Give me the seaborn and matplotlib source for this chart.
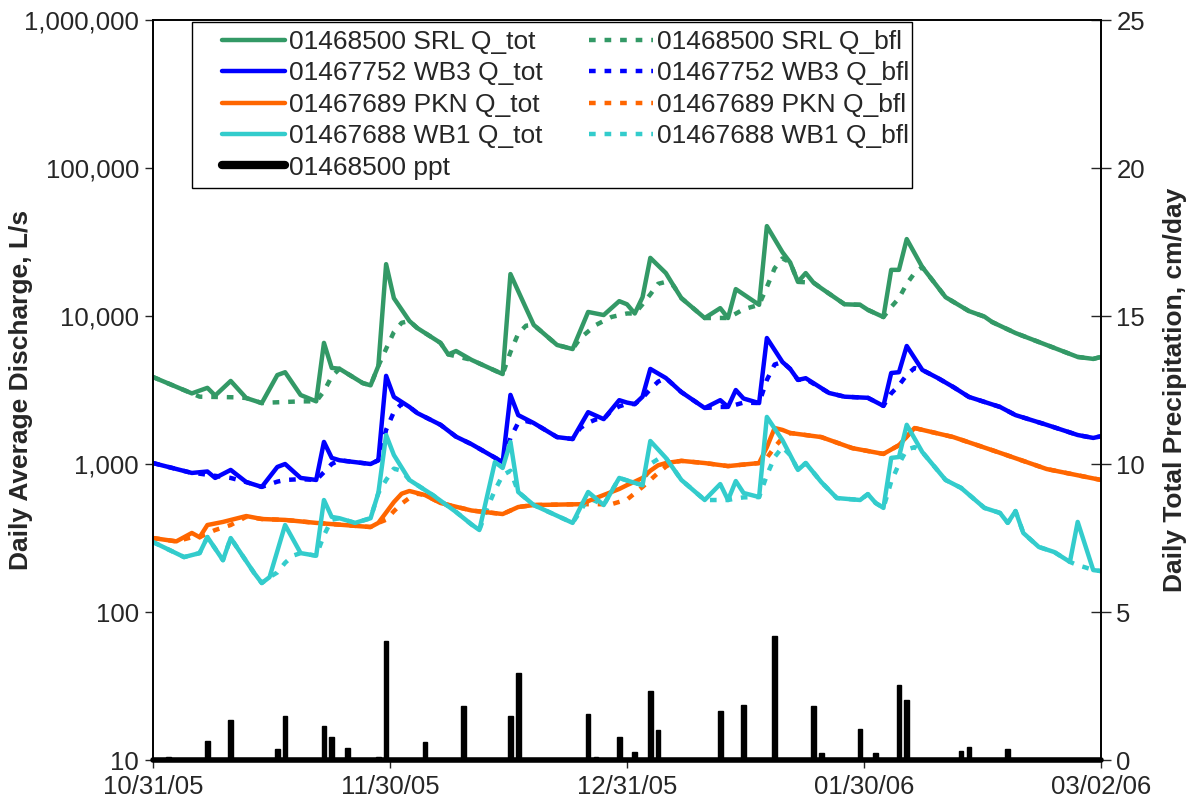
import numpy as np
import pandas as pd
import matplotlib
matplotlib.use("Agg")
import matplotlib.pyplot as plt
import matplotlib.dates as mdates
from matplotlib.ticker import FuncFormatter, NullLocator
from matplotlib.lines import Line2D
from matplotlib.patches import Rectangle
import seaborn as sns

sns.set_theme(style="white")
plt.rcParams['font.family'] = ['Liberation Sans', 'DejaVu Sans']

START = pd.Timestamp("2005-10-31")
N_DAYS = 122

# ---------------- data (day offsets from 10/31/05, values in L/s) ----------------
srl_tot_day = [0,5,7,8,10,12,14,16,17,19,21,22,23,24,27,28,29,30,31,33,34,37,38,39,41,45,46,48,49,52,
               54,56,58,60,61,62,63,64,66,67,68,71,73,74,75,78,79,81,82,83,84,85,86,89,91,92,94,95,96,97,
               99,102,105,107,108,111,115,116,119,121,122]
srl_tot_val = [3870,3000,3270,2900,3640,2790,2580,3990,4170,2925,2650,6580,4460,4400,3520,3400,4600,22400,13200,9250,
               8300,6580,5500,5800,5050,4050,19200,11300,8700,6370,5980,10650,10150,12600,12000,10400,13400,24700,19500,16000,
               13200,9690,11300,9690,15200,11900,40500,27000,23000,17000,19500,16800,15400,12000,11900,11000,9840,20500,20500,33100,
               21400,13400,10800,9900,9100,7670,6370,6080,5290,5130,5290]

srl_bfl_day = [0,5,6,11,12,14,15,19,21,22,23,24,27,28,29,30,31,32,33,34,37,38,41,45,46,47,48,49,52,54,
               55,57,59,61,62,63,64,65,66,67,68,71,73,74,76,78,79,80,81,82,83,84,85,86,89,91,92,94,95,96,
               97,98,99,102,105,107,108,111,115,116,119,121,122]
srl_bfl_val = [3870,3000,2850,2820,2790,2580,2600,2650,2650,3100,3900,4400,3520,3400,4600,6000,7800,9000,9250,8300,
               6580,5500,5050,4050,5700,7600,8600,8700,6370,5980,7100,8700,9850,10400,10400,12000,14000,16500,17000,16000,
               13200,9690,9700,9690,11100,11900,15700,21000,24500,23000,17000,16900,16800,15400,12000,11900,11000,9840,11500,13200,
               16500,19500,21400,13400,10800,9900,9100,7670,6370,6080,5290,5130,5290]

wb3_tot_day = [0,5,7,8,10,12,14,16,17,19,21,22,23,24,28,29,30,31,33,34,37,39,41,45,46,47,49,52,54,56,
               58,60,61,62,63,64,66,68,71,73,74,75,76,78,79,81,82,83,84,87,89,92,93,94,95,96,97,99,101,103,
               105,109,111,115,119,121,122]
wb3_tot_val = [1015,870,890,805,912,755,700,955,1000,805,780,1410,1100,1060,1000,1060,3940,2840,2430,2210,
               1840,1530,1360,1030,2930,2140,1890,1520,1475,2240,2010,2700,2600,2540,2850,4390,3810,3060,2390,2700,
               2430,3160,2770,2580,7100,4890,4390,3700,3800,3020,2850,2800,2630,2470,4120,4170,6270,4320,3810,3310,
               2840,2430,2140,1840,1570,1500,1540]

wb3_bfl_day = [0,5,6,10,12,14,16,17,19,21,22,23,24,28,29,30,31,32,33,34,37,39,41,45,46,47,48,49,52,54,
               55,56,57,58,59,60,61,62,63,64,65,66,68,71,73,74,76,78,79,80,81,82,83,84,87,89,92,93,94,95,
               96,97,98,99,101,103,105,109,111,115,119,121,122]
wb3_bfl_val = [1015,870,860,805,755,700,760,780,790,780,880,1000,1060,1000,1060,1700,2250,2550,2430,2210,
               1840,1530,1360,1030,1500,1900,1950,1890,1520,1475,1750,1900,2000,2010,2300,2450,2550,2540,2800,3200,
               3600,3810,3060,2390,2430,2430,2600,2580,3700,4700,4890,4390,3700,3750,3020,2850,2800,2630,2470,3000,
               3400,4000,4450,4320,3810,3310,2840,2430,2140,1840,1570,1500,1540]

pkn_tot_day = [0,3,5,6,7,9,12,14,17,21,28,29,30,31,32,33,35,37,41,45,47,49,55,57,60,61,62,63,64,65,
               66,68,71,74,78,79,80,81,82,86,90,94,96,98,103,109,115,122]
pkn_tot_val = [316,300,342,320,387,406,445,425,419,400,375,400,470,553,630,657,617,545,485,459,512,528,535,589,678,720,760,805,900,980,
               1015,1050,1015,968,1015,1300,1750,1700,1620,1520,1280,1170,1340,1750,1520,1190,925,780]

pkn_bfl_day = [0,3,5,6,7,8,10,12,14,17,21,28,29,30,31,32,33,34,35,37,41,45,47,49,55,57,59,61,63,65,
               66,67,68,71,74,78,79,80,81,82,86,90,94,96,98,103,109,115,122]
pkn_bfl_val = [316,300,320,320,340,358,387,440,425,419,400,375,400,420,480,540,590,630,617,545,485,459,512,528,535,535,535,575,700,870,
               960,1030,1050,1015,968,1015,1100,1300,1500,1620,1520,1280,1170,1340,1750,1520,1190,925,780]

wb1_tot_day = [0,4,6,7,9,10,13,14,15,17,19,21,22,23,24,26,28,29,30,31,33,36,39,41,42,44,45,46,47,49,
               54,56,58,60,62,63,64,66,68,71,73,74,75,76,78,79,81,82,83,84,86,88,91,92,93,94,95,96,97,99,
               102,104,107,109,110,111,112,114,116,118,119,121,122]
wb1_tot_val = [297,235,250,321,224,316,184,157,172,387,250,240,571,439,430,400,430,637,1570,1150,780,617,474,390,358,1030,940,1410,647,528,
               400,647,528,805,745,720,1430,1100,780,571,732,571,767,637,598,2080,1450,1150,912,1015,755,589,571,626,545,505,1100,1115,1840,1205,
               780,689,505,467,400,481,342,275,254,218,406,192,189]

wb1_bfl_day = [0,4,6,7,9,10,13,14,15,16,17,18,19,21,22,23,24,26,28,29,30,31,32,33,36,39,41,42,43,44,
               45,46,47,49,54,55,56,57,58,60,62,63,64,65,66,68,71,73,74,75,76,78,79,80,81,82,83,84,86,88,
               91,92,93,94,95,96,97,98,99,102,104,107,109,110,111,112,114,116,118,119,120,121,122]
wb1_bfl_val = [297,235,250,321,224,316,184,157,172,185,215,240,250,240,330,420,430,400,430,637,780,930,900,780,617,474,390,358,500,665,
               840,900,647,528,400,480,589,560,528,805,745,720,1000,1080,1100,780,571,571,571,585,595,598,840,1115,1300,1150,912,1015,755,589,
               571,626,545,505,760,1000,1250,1300,1205,780,689,505,467,400,481,342,275,254,218,207,200,192,189]

ppt_day = [2,7,10,16,17,22,23,25,29,30,31,35,40,46,47,56,57,60,62,64,65,67,73,76,80,84,85,86,91,92,93,96,97,104,105,110,120]
ppt_val = [0.1,0.65,1.35,0.37,1.5,1.15,0.78,0.4,0.1,4.02,0.05,0.62,1.82,1.49,2.95,1.55,0.1,0.78,0.28,2.33,1.01,0.05,
           1.66,1.85,4.19,0.05,1.82,0.25,1.05,0.03,0.25,2.53,2.03,0.32,0.45,0.37,0.05]

series_names = ["01468500 SRL", "01467752 WB3", "01467689 PKN", "01467688 WB1"]
series_colors = ["#339966", "#0000FF", "#FF6600", "#33CCCC"]
tot_data = [(srl_tot_day, srl_tot_val), (wb3_tot_day, wb3_tot_val), (pkn_tot_day, pkn_tot_val), (wb1_tot_day, wb1_tot_val)]
bfl_data = [(srl_bfl_day, srl_bfl_val), (wb3_bfl_day, wb3_bfl_val), (pkn_bfl_day, pkn_bfl_val), (wb1_bfl_day, wb1_bfl_val)]
x_tick_days = [0, 30.5, 61, 91.5, 122]


def to_dates(days):
    return START + pd.to_timedelta(np.asarray(days, dtype=float), unit="D")


# ---------------- figure ----------------
W, H = 1190, 810
fig = plt.figure(figsize=(W / 100, H / 100), dpi=100)
L, R, T, B = 153, 1101, 20, 760
ax = fig.add_axes([L / W, (H - B) / H, (R - L) / W, (B - T) / H])

LW = 3.2
DASH = (0, (1.5, 2.0))
for (d, v), col in zip(bfl_data, series_colors):
    sns.lineplot(x=to_dates(d), y=v, ax=ax, color=col, lw=LW, linestyle=DASH, legend=False)
for (d, v), col in zip(tot_data, series_colors):
    sns.lineplot(x=to_dates(d), y=v, ax=ax, color=col, lw=LW, legend=False)

TICK_FS = 18.5
LAB_FS = 19

ax.set_yscale("log")
ax.set_ylim(10, 1e6)
ax.yaxis.set_major_formatter(FuncFormatter(lambda v, p: f"{v:,.0f}"))
ax.yaxis.set_minor_locator(NullLocator())
ax.set_xlim(mdates.date2num(to_dates([0])[0]), mdates.date2num(to_dates([N_DAYS])[0]))
ax.set_xticks(mdates.date2num(to_dates(x_tick_days)))
ax.xaxis.set_major_formatter(mdates.DateFormatter("%m/%d/%y"))
ax.xaxis.set_minor_locator(NullLocator())
ax.set_xlabel("")
ax.set_ylabel("Daily Average Discharge, L/s", fontsize=LAB_FS, fontweight="bold")
ax.yaxis.set_label_coords((33 - L) / (R - L), 0.5)
ax.tick_params(axis="y", which="major", direction="out", length=6, width=1, labelsize=TICK_FS, pad=4, left=True)
ax.tick_params(axis="x", which="major", direction="out", length=6, width=1, labelsize=TICK_FS, pad=5, bottom=True)

ax2 = ax.twinx()
ax2.bar(to_dates(ppt_day), ppt_val, width=0.6, color="black", edgecolor="black", linewidth=1.0, zorder=3)
ax2.axhline(0, color="black", lw=4, clip_on=False, zorder=4)
ax2.set_ylim(0, 25)
ax2.set_yticks(range(0, 26, 5))
ax2.set_ylabel("Daily Total Precipitation, cm/day", fontsize=LAB_FS, fontweight="bold")
ax2.yaxis.set_label_coords((1163 - L) / (R - L), 0.5)
ax2.tick_params(axis="y", direction="inout", length=14, width=1, labelsize=TICK_FS, pad=4, right=True)

for a in (ax, ax2):
    for s in a.spines.values():
        s.set_color("black")
        s.set_linewidth(1.2)

# legend
handles, labels = [], []
for name, col in zip(series_names, series_colors):
    handles.append(Line2D([], [], color=col, lw=LW))
    labels.append(f"{name} Q_tot")
handles.append(Line2D([], [], color="black", lw=6))
labels.append("01468500 ppt")
for name, col in zip(series_names, series_colors):
    handles.append(Line2D([], [], color=col, lw=LW, linestyle=DASH))
    labels.append(f"{name} Q_bfl")

# legend frame box (drawn in ax2, beneath the legend entries)
ax2.add_patch(Rectangle((192 / W, (H - 188) / H), (912 - 192) / W, (188 - 22) / H,
                        transform=fig.transFigure, fill=True, facecolor="white",
                        edgecolor="black", linewidth=1, zorder=8, clip_on=False))
leg = ax2.legend(handles, labels, ncol=2, loc="upper left",
                 bbox_to_anchor=(222 / W, (H - 30) / H), bbox_transform=fig.transFigure,
                 frameon=False, fontsize=19, handlelength=2.4, handletextpad=0.15,
                 columnspacing=1.75, labelspacing=0.28, borderpad=0, borderaxespad=0)
leg.set_zorder(10)

fig.savefig("out.png", dpi=100)
